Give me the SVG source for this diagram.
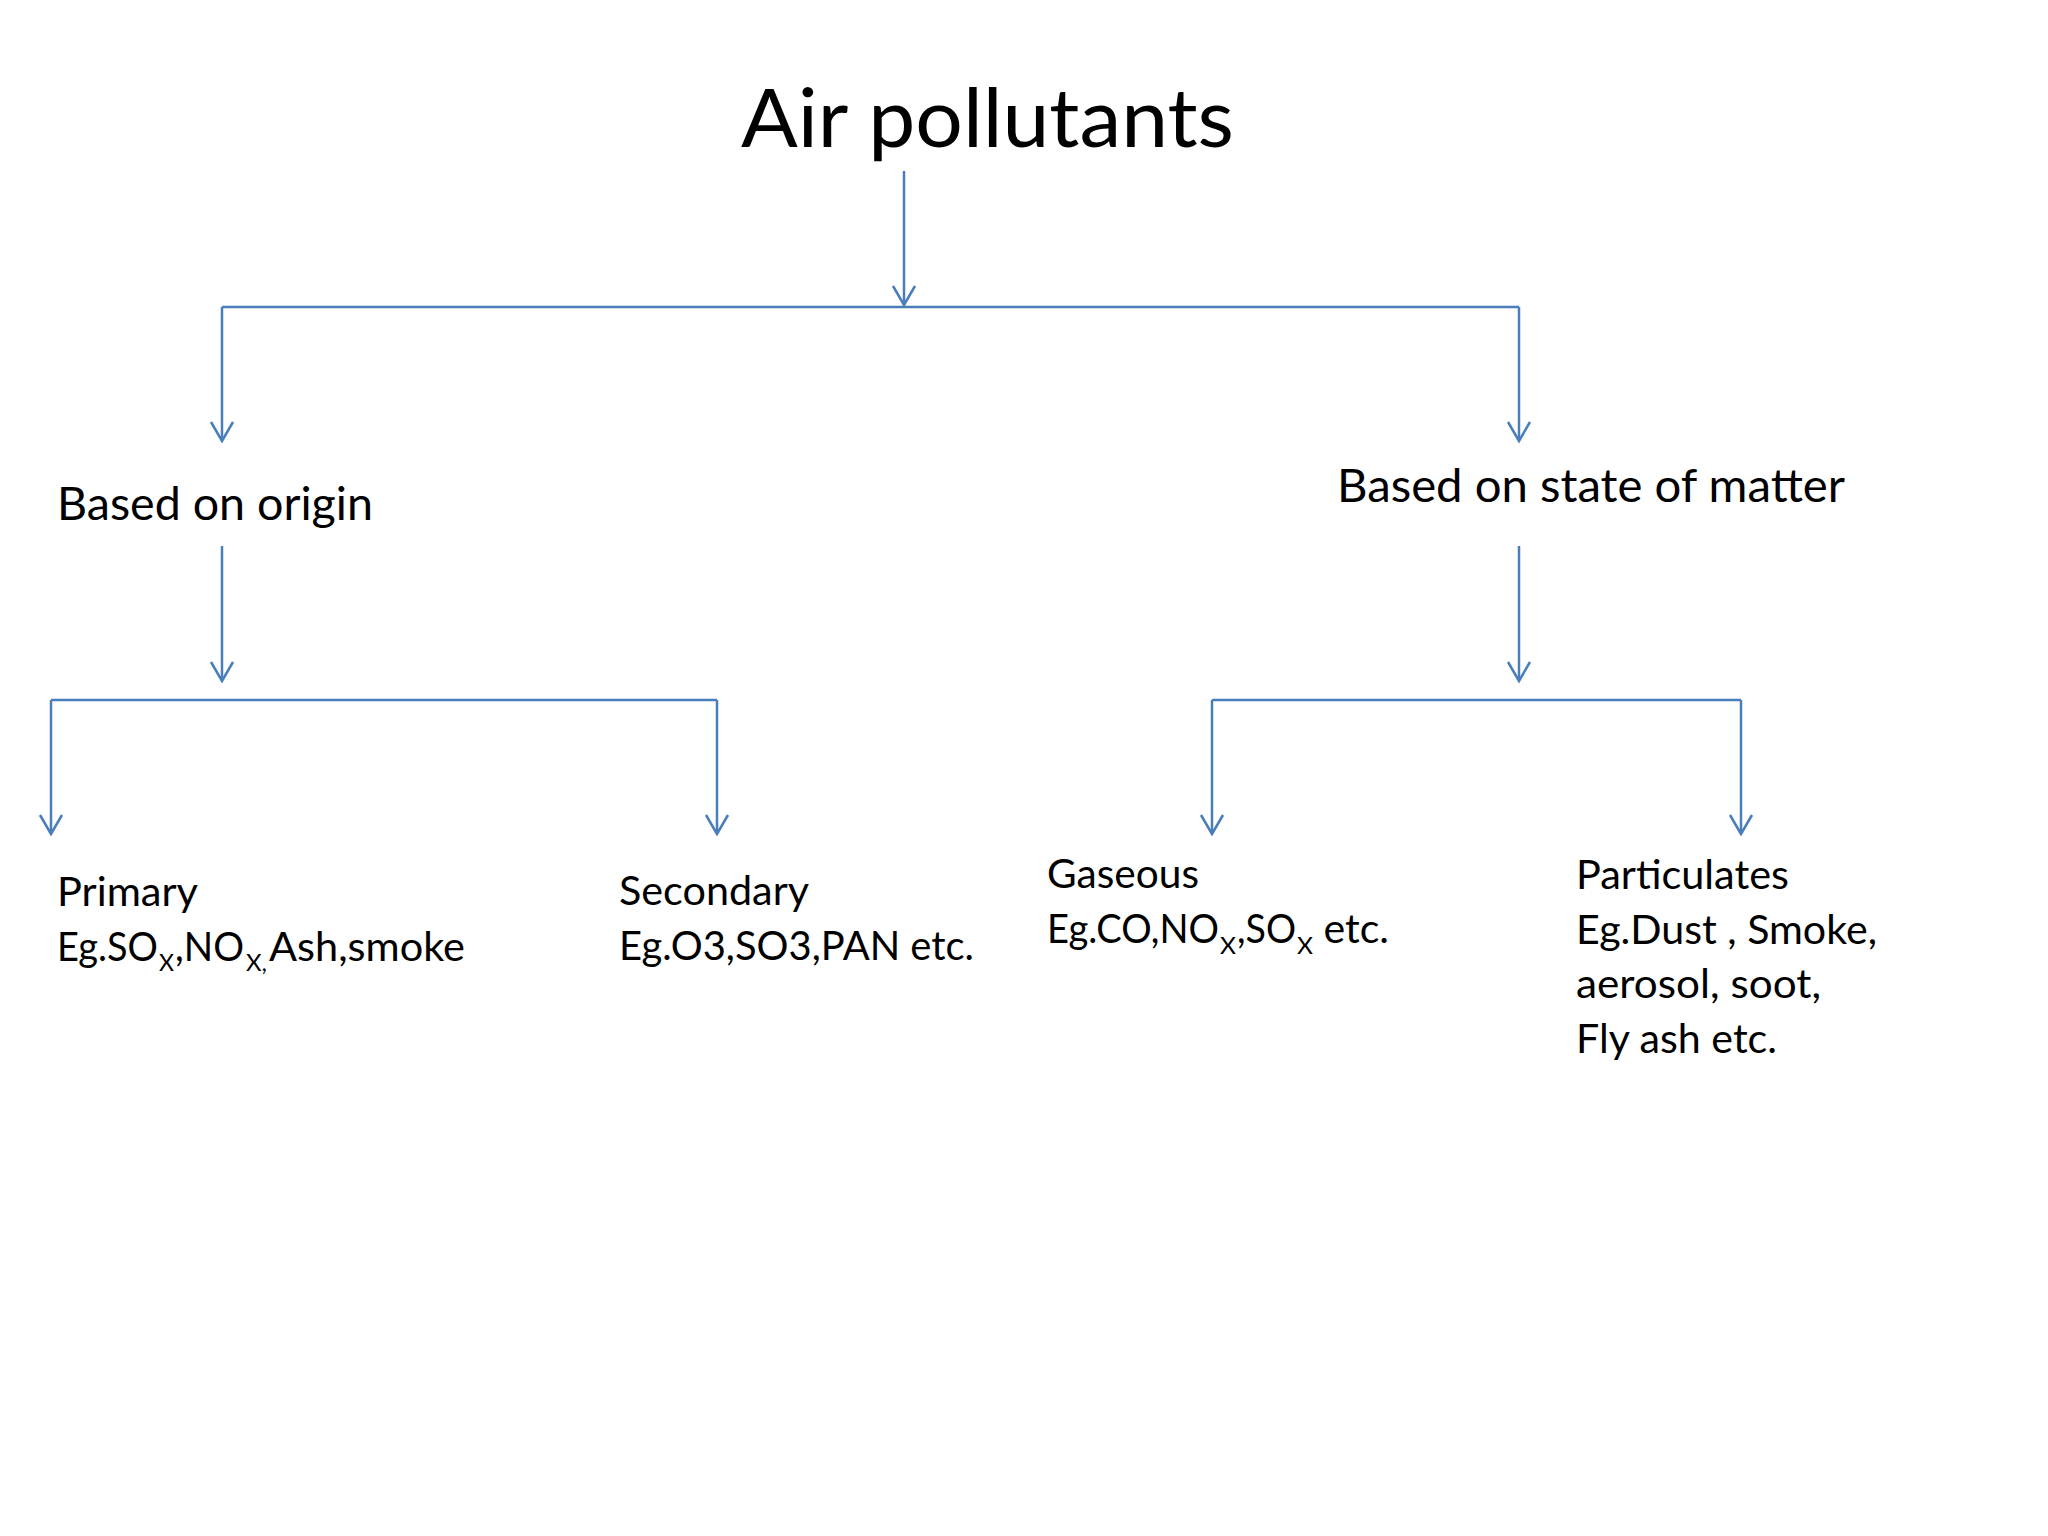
<svg xmlns="http://www.w3.org/2000/svg" width="2048" height="1536" viewBox="0 0 2048 1536">
<defs>
<style>
text { font-family: Lato, "Open Sans", "Liberation Sans", sans-serif; fill: #000; }
.title { font-size: 82px; }
.cat { font-size: 46px; }
.body { font-size: 41px; }
.sub { font-size: 23px; }
.conn { stroke: #4A7EBB; stroke-width: 2.5; fill: none; }
.arrow { marker-end: url(#vhead); }
</style>
<marker id="vhead" markerUnits="userSpaceOnUse" markerWidth="24" markerHeight="26" refX="0" refY="0" orient="auto" overflow="visible">
<path d="M-19,-11 L0,0 L-19,11" fill="none" stroke="#4A7EBB" stroke-width="2.5" stroke-linejoin="miter"/>
</marker>
</defs>
<rect x="0" y="0" width="2048" height="1536" fill="#ffffff"/>

<g id="connectors">
<line class="conn arrow" x1="904" y1="171" x2="904" y2="305"/>
<line class="conn" x1="222" y1="307" x2="1519" y2="307"/>
<line class="conn arrow" x1="222" y1="307" x2="222" y2="441"/>
<line class="conn arrow" x1="1519" y1="307" x2="1519" y2="441"/>
<line class="conn arrow" x1="222" y1="546" x2="222" y2="681"/>
<line class="conn" x1="51" y1="700" x2="717" y2="700"/>
<line class="conn arrow" x1="51" y1="700" x2="51" y2="834"/>
<line class="conn arrow" x1="717" y1="700" x2="717" y2="834"/>
<line class="conn arrow" x1="1519" y1="546" x2="1519" y2="681"/>
<line class="conn" x1="1212" y1="700" x2="1741" y2="700"/>
<line class="conn arrow" x1="1212" y1="700" x2="1212" y2="834"/>
<line class="conn arrow" x1="1741" y1="700" x2="1741" y2="834"/>
</g>

<g id="node-title">
<text class="title" x="741" y="147" textLength="493" lengthAdjust="spacingAndGlyphs">Air pollutants</text>
</g>

<g id="node-origin">
<text class="cat" x="57" y="520" textLength="316" lengthAdjust="spacingAndGlyphs">Based on origin</text>
</g>

<g id="node-state">
<text class="cat" x="1337" y="502" textLength="508" lengthAdjust="spacingAndGlyphs">Based on state of matter</text>
</g>

<g id="node-primary">
<text class="body" x="57" y="906" textLength="141" lengthAdjust="spacingAndGlyphs">Primary</text>
<text class="body" y="961"><tspan x="57" textLength="101" lengthAdjust="spacingAndGlyphs">Eg.SO</tspan><tspan class="sub" x="159" y="971" textLength="15" lengthAdjust="spacingAndGlyphs">X</tspan><tspan x="175" y="961" textLength="69" lengthAdjust="spacingAndGlyphs">,NO</tspan><tspan class="sub" x="246" y="971" textLength="21" lengthAdjust="spacingAndGlyphs">X,</tspan><tspan x="269" y="961" textLength="196" lengthAdjust="spacingAndGlyphs">Ash,smoke</tspan></text>
</g>

<g id="node-secondary">
<text class="body" x="619" y="905" textLength="190" lengthAdjust="spacingAndGlyphs">Secondary</text>
<text class="body" x="619" y="960" textLength="355" lengthAdjust="spacingAndGlyphs">Eg.O3,SO3,PAN etc.</text>
</g>

<g id="node-gaseous">
<text class="body" x="1047" y="888" textLength="152" lengthAdjust="spacingAndGlyphs">Gaseous</text>
<text class="body" y="943"><tspan x="1047" textLength="172" lengthAdjust="spacingAndGlyphs">Eg.CO,NO</tspan><tspan class="sub" x="1220" y="954" textLength="16" lengthAdjust="spacingAndGlyphs">X</tspan><tspan x="1237" y="943" textLength="59" lengthAdjust="spacingAndGlyphs">,SO</tspan><tspan class="sub" x="1297" y="954" textLength="16" lengthAdjust="spacingAndGlyphs">X</tspan><tspan x="1313" y="943" textLength="76" lengthAdjust="spacingAndGlyphs"> etc.</tspan></text>
</g>

<g id="node-particulates">
<text class="body" x="1576" y="889" textLength="213" lengthAdjust="spacingAndGlyphs">Particulates</text>
<text class="body" x="1576" y="944" textLength="301" lengthAdjust="spacingAndGlyphs">Eg.Dust , Smoke,</text>
<text class="body" x="1576" y="998" textLength="245" lengthAdjust="spacingAndGlyphs">aerosol, soot,</text>
<text class="body" x="1576" y="1053" textLength="201" lengthAdjust="spacingAndGlyphs">Fly ash etc.</text>
</g>
</svg>
